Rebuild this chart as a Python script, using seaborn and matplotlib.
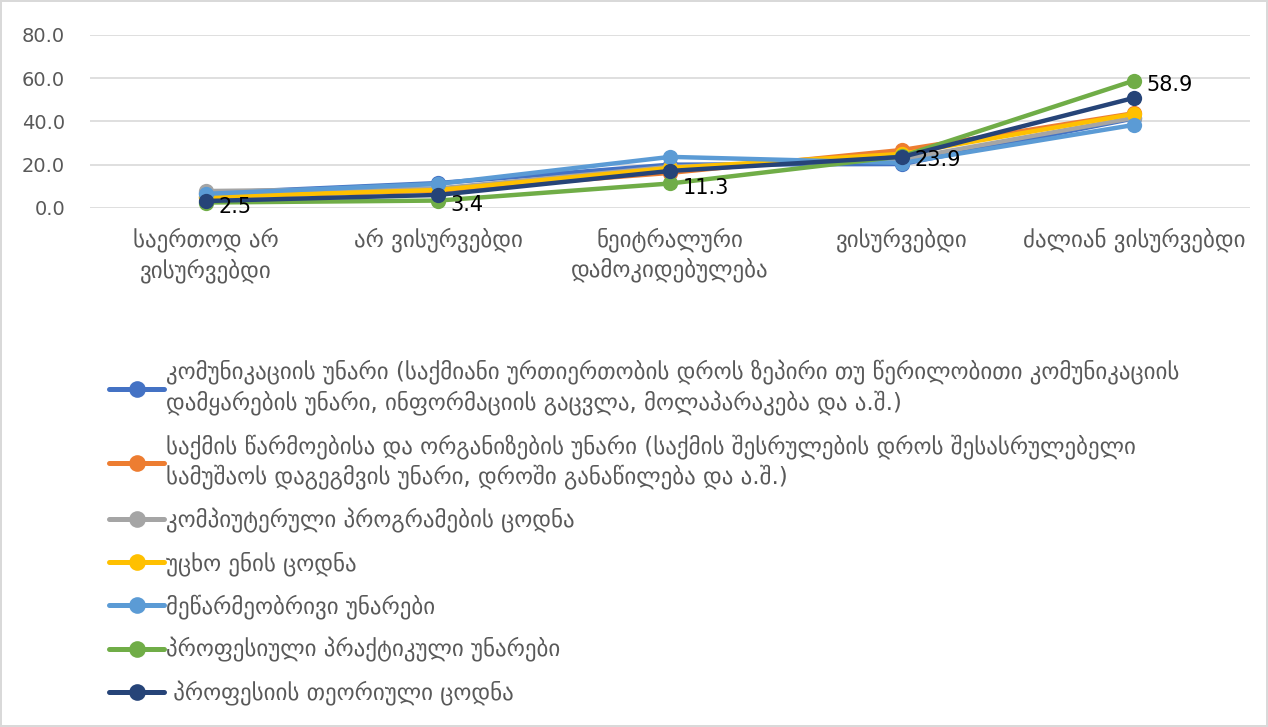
import numpy as np
import pandas as pd
import matplotlib
matplotlib.use("Agg")
import matplotlib.pyplot as plt
import seaborn as sns
from matplotlib.ticker import FormatStrFormatter

sns.set_theme(style="white")
plt.rcParams["font.family"] = ["DejaVu Sans"]

# DATA
categories = ["საერთოდ არ\nვისურვებდი", "არ ვისურვებდი", "ნეიტრალური\nდამოკიდებულება",
              "ვისურვებდი", "ძალიან ვისურვებდი"]

series_names = [
    "კომუნიკაციის უნარი (საქმიანი ურთიერთობის დროს ზეპირი თუ წერილობითი კომუნიკაციის\n"
    "დამყარების უნარი, ინფორმაციის გაცვლა, მოლაპარაკება და ა.შ.)",
    "საქმის წარმოებისა და ორგანიზების უნარი (საქმის შესრულების დროს შესასრულებელი\n"
    "სამუშაოს დაგეგმვის უნარი, დროში განაწილება და ა.შ.)",
    "კომპიუტერული პროგრამების ცოდნა",
    "უცხო ენის ცოდნა",
    "მეწარმეობრივი უნარები",
    "პროფესიული პრაქტიკული უნარები",
    " პროფესიის თეორიული ცოდნა",
]

communication = [6.8, 11.5, 20.0, 20.3, 41.4]
organisation = [5.2, 8.0, 16.2, 26.8, 43.8]
computer = [7.8, 9.0, 19.0, 22.5, 41.7]
language = [5.0, 8.3, 18.5, 25.0, 43.5]
entrepreneur = [6.5, 11.1, 23.6, 20.8, 38.4]
practical = [2.5, 3.4, 11.3, 23.9, 58.9]
theory = [3.2, 6.0, 17.1, 23.6, 50.9]

all_values = [communication, organisation, computer, language, entrepreneur, practical, theory]
colors = ["#4472C4", "#ED7D31", "#A5A5A5", "#FFC000", "#5B9BD5", "#70AD47", "#264478"]

rows = []
for name, vals in zip(series_names, all_values):
    for i, v in enumerate(vals):
        rows.append({"series": name, "pos": i, "value": v})
df = pd.DataFrame(rows)

# PLOT
fig = plt.figure(figsize=(12.68, 7.27), dpi=100, edgecolor="#D9D9D9", linewidth=1.5)
ax = fig.add_axes([0.071, 0.714, 0.915, 0.238])

sns.lineplot(data=df, x="pos", y="value", hue="series", hue_order=series_names,
             palette=colors, marker="o", markersize=11, markeredgewidth=0,
             linewidth=3.2, ax=ax, legend=True, clip_on=False)

# data labels for the practical skills series
for i, v in enumerate(practical):
    ax.annotate(f"{v:.1f}", (i, v), xytext=(9, -3), textcoords="offset points",
                ha="left", va="center", fontsize=15, color="black")

ax.set_xlim(-0.5, 4.5)
ax.set_ylim(0, 80)
ax.set_yticks([0, 20, 40, 60, 80])
ax.yaxis.set_major_formatter(FormatStrFormatter("%.1f"))
ax.set_xticks(range(len(categories)))
ax.set_xticklabels(categories, linespacing=1.3)
ax.tick_params(axis="x", length=0, pad=14, labelsize=16.5, labelcolor="#595959")
ax.tick_params(axis="y", length=0, pad=18, labelsize=14, labelcolor="#595959")
ax.grid(axis="y", color="#D9D9D9", linewidth=1.2)
ax.set_axisbelow(True)
for s in ax.spines.values():
    s.set_visible(False)
ax.set_xlabel("")
ax.set_ylabel("")

handles, labels = ax.get_legend_handles_labels()
leg = ax.legend(handles, labels, loc="upper left", bbox_to_anchor=(0.086, 0.505),
                bbox_transform=fig.transFigure, frameon=False, fontsize=16.5,
                labelcolor="#595959", handlelength=2.4, handletextpad=0.1,
                labelspacing=0.8, borderaxespad=0, borderpad=0)
for t in leg.get_texts():
    t.set_linespacing(1.3)
for h in leg.legend_handles:
    h.set_linewidth(3.6)
    h.set_markersize(12)

fig.savefig("out.png", dpi=100)
